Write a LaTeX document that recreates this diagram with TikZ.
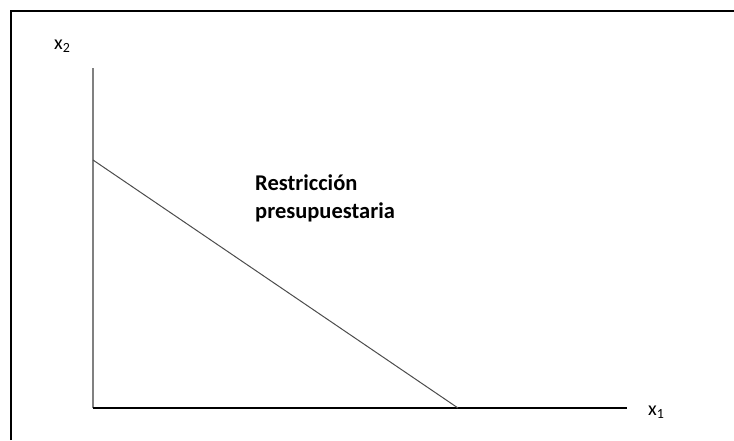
\documentclass[tikz,border=0pt]{standalone}
\usepackage{fontspec}
\setmainfont{Carlito}
\usetikzlibrary{positioning}

\begin{document}
\begin{tikzpicture}[x=1pt, y=-1pt,
        axislbl/.style={inner sep=0pt, font=\fontsize{20}{22}\selectfont},
        frameline/.style={line width=2pt, black}]
        \useasboundingbox (0,0) rectangle (734,440);

        % Frame (left and top edges)
        \draw[frameline] (11,440) -- (11,11) -- (734,11);

        % Axes
        \coordinate (O) at (93,408);
        \coordinate (ytop) at (93,68);
        \coordinate (xend) at (627,408);
        \draw[line width=1.6pt, black!50] (O) -- (ytop);
        \draw[line width=1.3pt, black] (O) -- (xend);
        \node[axislbl, anchor=base west] (x2) at (54,49) {x\textsubscript{2}};
        \node[axislbl, anchor=base west] (x1) at (648,415) {x\textsubscript{1}};

        % Budget line
        \coordinate (A) at (93,160);
        \coordinate (B) at (458,408);
        \draw[line width=1pt, black!70] (A) -- (B);
        \node[anchor=base west, inner sep=0pt, align=left,
              font=\bfseries\fontsize{22.5}{28}\selectfont] (restr) at (255,218)
              {Restricción\\presupuestaria};
\end{tikzpicture}
\end{document}
